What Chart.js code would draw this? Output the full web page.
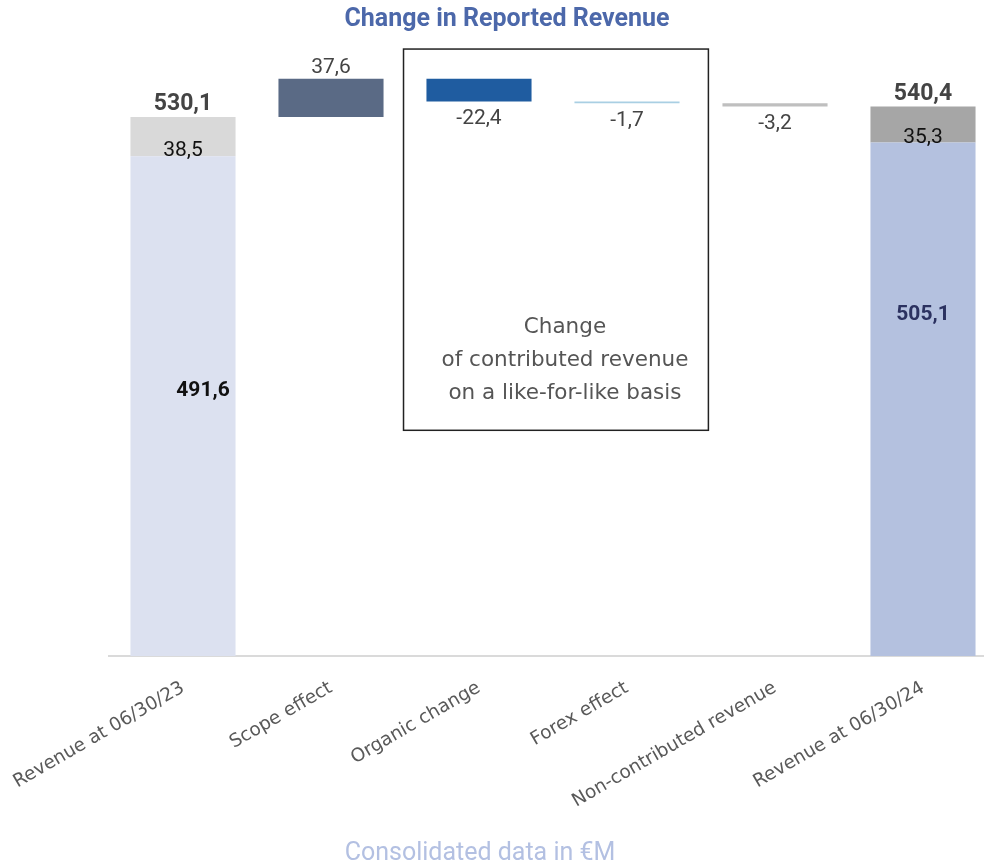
<!DOCTYPE html>
<html>
<head>
<meta charset="utf-8">
<script src="https://cdn.jsdelivr.net/npm/chart.js@4/dist/chart.umd.min.js"></script>
<style>
  html, body { margin: 0; padding: 0; background: #fff; overflow: hidden; }
  #wrap { width: 1000px; height: 868px; position: relative; }
</style>
</head>
<body>
<div id="wrap"><canvas id="bridgeChart"></canvas></div>
<script>
// values in €M
const categories = ["Revenue at 06/30/23", "Scope effect", "Organic change", "Forex effect", "Non-contributed revenue", "Revenue at 06/30/24"];
const contributed = [491.6, 505.1];      // opening, closing
const nonContributed = [38.5, 35.3];     // opening, closing
const totals = [530.1, 540.4];           // opening, closing
const variations = [37.6, -22.4, -1.7, -3.2];  // scope, organic, forex, non-contributed
const boxLines = ["Change", "of contributed revenue", "on a like-for-like basis"];
const title = "Change in Reported Revenue";
const footnote = "Consolidated data in €M";

const NUM_FONT = "Roboto, 'DejaVu Sans', sans-serif";
const TXT_FONT = "'DejaVu Sans', Roboto, sans-serif";
const last = categories.length - 1;

function fmt(v) { return v.toFixed(1).replace(".", ","); }

// floating bars
var baseData = categories.map(() => null);
var restData = categories.map(() => null);
var moveData = categories.map(() => null);
baseData[0] = [0, contributed[0]];
baseData[last] = [0, contributed[1]];
restData[0] = [contributed[0], contributed[0] + nonContributed[0]];
restData[last] = [contributed[1], contributed[1] + nonContributed[1]];
var running = totals[0];
variations.forEach((v, i) => {
  moveData[i + 1] = [running, running + v];
  running += v;
});

const labelPlugin = {
  id: "bridgeLabels",
  afterDatasetsDraw(chart) {
    const ctx = chart.ctx;
    const x = chart.scales.x, y = chart.scales.y;
    ctx.save();
    ctx.textAlign = "center";

    // title + footnote
    ctx.textBaseline = "middle";
    ctx.font = "bold 25px " + NUM_FONT;
    ctx.fillStyle = "#4c68aa";
    ctx.fillText(title, chart.width / 2 + 7, 20);
    ctx.font = "25px " + NUM_FONT;
    ctx.fillStyle = "#b3c0e2";
    ctx.fillText(footnote, chart.width / 2 - 20, 854);

    // totals above the end bars
    ctx.font = "bold 23px " + NUM_FONT;
    ctx.fillStyle = "#444";
    ctx.textBaseline = "bottom";
    ctx.fillText(fmt(totals[0]), x.getPixelForValue(0), y.getPixelForValue(totals[0]) - 1);
    ctx.fillText(fmt(totals[1]), x.getPixelForValue(last), y.getPixelForValue(totals[1]) - 1);

    // non-contributed part (grey)
    ctx.font = "21px " + NUM_FONT;
    ctx.fillStyle = "#111";
    ctx.textBaseline = "middle";
    ctx.fillText(fmt(nonContributed[0]), x.getPixelForValue(0), y.getPixelForValue(contributed[0] + nonContributed[0] * 0.15));
    ctx.fillText(fmt(nonContributed[1]), x.getPixelForValue(last), y.getPixelForValue(contributed[1] + nonContributed[1] * 0.45) + 11);

    // contributed part
    ctx.font = "bold 21px " + NUM_FONT;
    ctx.fillStyle = "#111";
    ctx.fillText(fmt(contributed[0]), x.getPixelForValue(0) + 20, y.getPixelForValue(contributed[0] * 0.53));
    ctx.fillStyle = "#2b3160";
    ctx.fillText(fmt(contributed[1]), x.getPixelForValue(last), y.getPixelForValue(contributed[1] * 0.665));

    // variations
    ctx.font = "21px " + NUM_FONT;
    ctx.fillStyle = "#444";
    variations.forEach((v, i) => {
      const r = moveData[i + 1];
      const cx = x.getPixelForValue(i + 1);
      if (v >= 0) {
        ctx.textBaseline = "bottom";
        ctx.fillText(fmt(v), cx, y.getPixelForValue(r[1]) - 1);
      } else {
        ctx.textBaseline = "top";
        ctx.fillText(fmt(v), cx, y.getPixelForValue(r[1]) + 7);
      }
    });

    // like-for-like box
    const bx1 = x.getPixelForValue(1.49), bx2 = x.getPixelForValue(3.55);
    const by1 = y.getPixelForValue(597), by2 = y.getPixelForValue(222);
    ctx.strokeStyle = "#222";
    ctx.lineWidth = 1.5;
    ctx.strokeRect(bx1, by1, bx2 - bx1, by2 - by1);
    ctx.font = "21.5px " + TXT_FONT;
    ctx.fillStyle = "#555";
    ctx.textBaseline = "middle";
    const tx = (bx1 + bx2) / 2 + 9;
    boxLines.forEach((t, i) => {
      ctx.fillText(t, tx, y.getPixelForValue(323) + i * 33);
    });
    ctx.restore();
  }
};

new Chart(document.getElementById("bridgeChart"), {
  type: "bar",
  data: {
    labels: categories,
    datasets: [
      { label: "Contributed", data: baseData,
        backgroundColor: ["#dce1f0", null, null, null, null, "#b4c1df"] },
      { label: "Non-contributed", data: restData,
        backgroundColor: ["#d9d9d9", null, null, null, null, "#a6a6a6"] },
      { label: "Variation", data: moveData,
        backgroundColor: [null, "#5a6a85", "#1f5ca0", "#a9cfe3", "#bfbfbf", null] }
    ]
  },
  options: {
    responsive: true,
    maintainAspectRatio: false,
    animation: false,
    barPercentage: 1,
    categoryPercentage: 0.71,
    layout: { padding: { left: 109, right: 3, top: 46, bottom: 24 } },
    plugins: {
      legend: { display: false },
      tooltip: { enabled: false }
    },
    scales: {
      x: {
        stacked: true,
        grid: { display: false },
        border: { display: true, color: "#dadada", width: 2 },
        ticks: {
          color: "#595959",
          font: { family: TXT_FONT, size: 18.5 },
          minRotation: 30,
          maxRotation: 30,
          padding: 13
        },
        afterFit: (scale) => {
          scale.height = 188;
          scale.paddingLeft = 0;
          scale.paddingRight = 0;
        }
      },
      y: {
        display: false,
        min: 0,
        max: 600
      }
    }
  },
  plugins: [labelPlugin]
});
</script>
</body>
</html>
